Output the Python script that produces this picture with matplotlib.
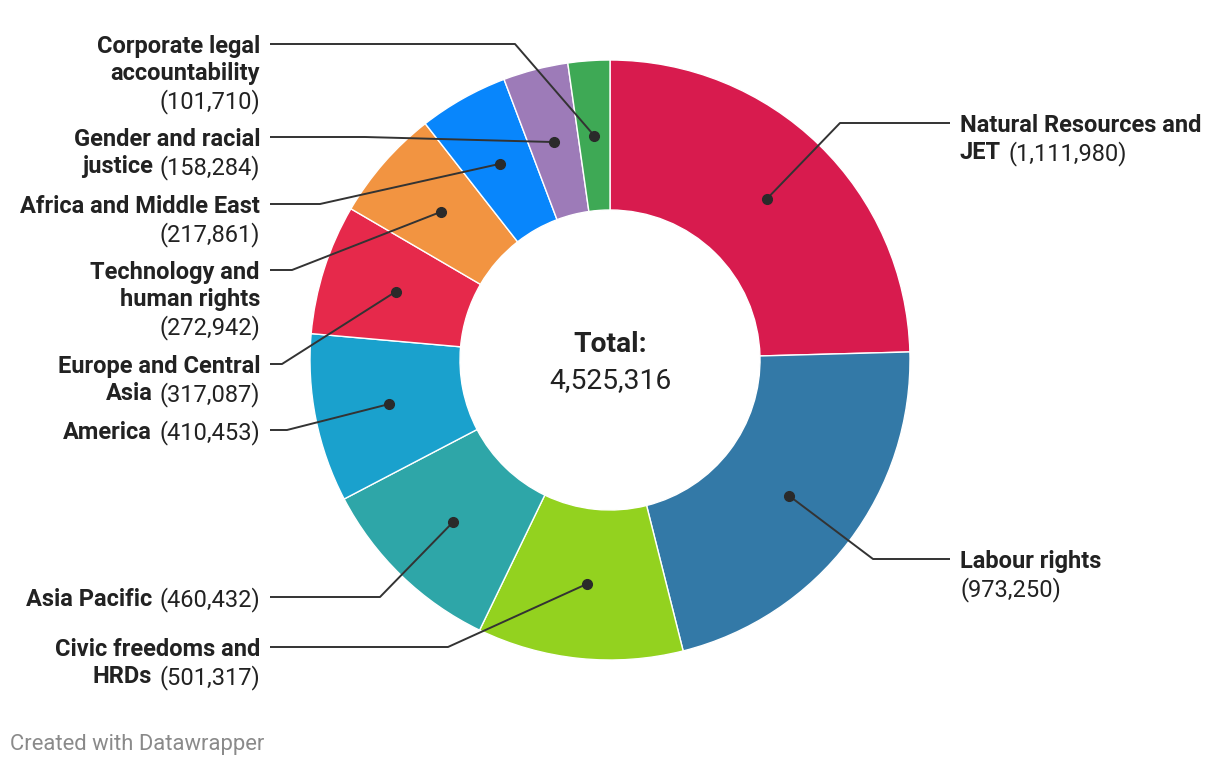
import numpy as np
import matplotlib
matplotlib.use('Agg')
import matplotlib.pyplot as plt

plt.rcParams['font.family'] = ['Roboto', 'DejaVu Sans']

# data, clockwise from 12 o'clock
categories = ['Natural Resources and JET', 'Labour rights', 'Civic freedoms and HRDs',
              'Asia Pacific', 'America', 'Europe and Central Asia',
              'Technology and human rights', 'Africa and Middle East',
              'Gender and racial justice', 'Corporate legal accountability']
values = [1111980, 973250, 501317, 460432, 410453, 317087, 272942, 217861, 158284, 101710]
colors = ['#D81B4E', '#3379A7', '#93D21F', '#2EA6A8', '#1AA1CD',
          '#E6294B', '#F29441', '#0886FC', '#9D7BB8', '#3EA955']

# label text split in lines: (bold part, regular part)
label_lines = [
    [('Natural Resources and', ''), ('JET', '(1,111,980)')],
    [('Labour rights', ''), ('', '(973,250)')],
    [('Civic freedoms and', ''), ('HRDs', '(501,317)')],
    [('Asia Pacific', '(460,432)')],
    [('America', '(410,453)')],
    [('Europe and Central', ''), ('Asia', '(317,087)')],
    [('Technology and', ''), ('human rights', ''), ('', '(272,942)')],
    [('Africa and Middle East', ''), ('', '(217,861)')],
    [('Gender and racial', ''), ('justice', '(158,284)')],
    [('Corporate legal', ''), ('accountability', ''), ('', '(101,710)')],
]

# layout (pixels, image coords): label row y, elbow x, side
label_y = [123, 559, 647, 597, 430, 364, 270, 204, 137, 44]
elbow_x = [840, 873, 448, 380, 287, 282, 292, 320, 365, 515]
side = ['r', 'r', 'l', 'l', 'l', 'l', 'l', 'l', 'l', 'l']

W, H = 1220, 766
cx, cy = 610, H - 360
R, ring = 300, 150

fig = plt.figure(figsize=(W / 100, H / 100), dpi=100)
ax = fig.add_axes([0, 0, 1, 1])
ax.pie(values, colors=colors, radius=R, center=(cx, cy), startangle=90,
       counterclock=False, wedgeprops=dict(width=ring, edgecolor='white', linewidth=1))
ax.set_xlim(0, W)
ax.set_ylim(0, H)
ax.set_aspect('equal')
ax.axis('off')

renderer = fig.canvas.get_renderer()
fs = 17
line_h = 27.3
ink = '#222222'

def text_width(s, weight):
    t = ax.text(0, 0, s, fontsize=fs, fontweight=weight)
    w = t.get_window_extent(renderer).width
    t.remove()
    return w

total = float(sum(values))
cum = np.cumsum([0] + values) / total
for i in range(len(values)):
    mid = (cum[i] + cum[i + 1]) / 2 * 2 * np.pi
    r_mid = R - ring / 2
    dx = cx + r_mid * np.sin(mid)
    dy = cy + r_mid * np.cos(mid)
    ly = H - label_y[i]
    if side[i] == 'r':
        x_end, x_txt = 950, 960
    else:
        x_end, x_txt = 270, 260
    ax.plot([dx, elbow_x[i], x_end], [dy, ly, ly], color='#333333', lw=1.4,
            solid_capstyle='butt', zorder=3)
    ax.plot(dx, dy, 'o', color='#2a2a2a', ms=7, zorder=4)

    for j, (b, reg) in enumerate(label_lines[i]):
        y = ly - j * line_h
        gap = 7 if (b and reg) else 0
        wb = text_width(b, 'bold') if b else 0
        wr = text_width(reg, 'normal') if reg else 0
        if side[i] == 'r':
            x0 = x_txt
        else:
            x0 = x_txt - (wb + gap + wr)
        if b:
            ax.text(x0, y, b, fontsize=fs, fontweight='bold', color=ink,
                    ha='left', va='center_baseline')
        if reg:
            ax.text(x0 + wb + gap, y, reg, fontsize=fs, color=ink,
                    ha='left', va='center_baseline')

ax.text(cx, H - 342, 'Total:', fontsize=20.3, fontweight='bold', color=ink,
        ha='center', va='center_baseline')
ax.text(cx, H - 378, '{:,}'.format(sum(values)), fontsize=20.3, color=ink,
        ha='center', va='center_baseline')

ax.text(10, H - 742, 'Created with Datawrapper', fontsize=15.8, color='#8a8a8a',
        ha='left', va='center_baseline')

fig.savefig('out.png', dpi=100, facecolor='white')
